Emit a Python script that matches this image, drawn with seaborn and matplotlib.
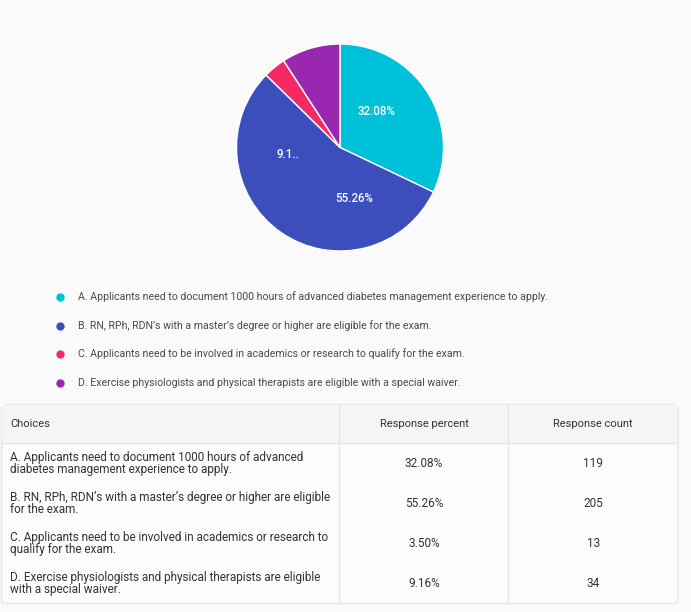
import matplotlib
matplotlib.use("Agg")
import matplotlib.pyplot as plt
from matplotlib.patches import FancyBboxPatch, Rectangle
import seaborn as sns

# ---- data ----
choices = [
    "A. Applicants need to document 1000 hours of advanced diabetes management experience to apply.",
    "B. RN, RPh, RDN\u2019s with a master\u2019s degree or higher are eligible for the exam.",
    "C. Applicants need to be involved in academics or research to qualify for the exam.",
    "D. Exercise physiologists and physical therapists are eligible with a special waiver.",
]
table_choices = [
    "A. Applicants need to document 1000 hours of advanced\ndiabetes management experience to apply.",
    "B. RN, RPh, RDN\u2019s with a master\u2019s degree or higher are eligible\nfor the exam.",
    "C. Applicants need to be involved in academics or research to\nqualify for the exam.",
    "D. Exercise physiologists and physical therapists are eligible\nwith a special waiver.",
]
percents = [32.08, 55.26, 3.50, 9.16]
counts = [119, 205, 13, 34]
pie_labels = ["32.08%", "55.26%", "", "9.1.."]
headers = ["Choices", "Response percent", "Response count"]
colors = ["#00C1DA", "#3B4EBB", "#F52A65", "#9A27B0"]

sns.set_theme(style="white")
plt.rcParams["font.family"] = ["Roboto", "DejaVu Sans"]

W, H = 691, 612
fig = plt.figure(figsize=(W / 100, H / 100), dpi=100)
fig.patch.set_facecolor("#FAFAFA")

# overlay axes in pixel coordinates for layout
lay = fig.add_axes([0, 0, 1, 1])
lay.set_xlim(0, W)
lay.set_ylim(H, 0)
lay.axis("off")

# ---- pie ----
cx, cy, r = 340, 147.5, 103.5
pax = fig.add_axes([(cx - r) / W, (H - cy - r) / H, 2 * r / W, 2 * r / H])
wedges, _ = pax.pie(percents, colors=colors, startangle=90, counterclock=False,
                    wedgeprops=dict(edgecolor="white", linewidth=1.0))
pax.set_xlim(-1.0, 1.0)
pax.set_ylim(-1.0, 1.0)
pax.set_aspect("equal")
label_pos = [(0.356, 0.343), (0.136, -0.495), None, (-0.50, -0.07)]
for lab, pos in zip(pie_labels, label_pos):
    if lab and pos:
        pax.text(pos[0], pos[1], lab, ha="center", va="center", color="white",
                 fontsize=8.3, fontweight="medium")

# ---- legend ----
leg_y0, leg_dy = 297, 28.5
for i, (txt, col) in enumerate(zip(choices, colors)):
    y = leg_y0 + i * leg_dy
    lay.scatter([60.5], [y], s=36, color=col, zorder=3, linewidths=0)
    lay.text(78, y, txt, ha="left", va="center", fontsize=7.55, color="#4A4A4A")

# ---- table ----
tx0, tx1, ty0, ty1 = 1.5, 678, 404.5, 603.5
hdr_bottom = 443
col_sep = [339.5, 508.5]
row_h = 40
box = FancyBboxPatch((tx0, ty0), tx1 - tx0, ty1 - ty0,
                     boxstyle="round,pad=0,rounding_size=5",
                     facecolor="#FCFCFC", edgecolor="#E6E6E6", linewidth=1.0, zorder=1)
lay.add_patch(box)
lay.add_patch(Rectangle((tx0 + 0.5, ty0 + 0.5), tx1 - tx0 - 1, hdr_bottom - ty0 - 0.5,
                        facecolor="#F5F5F5", edgecolor="none", zorder=1.5))
lay.plot([tx0, tx1], [hdr_bottom, hdr_bottom], color="#E6E6E6", lw=1.0, zorder=2)
for xs in col_sep:
    lay.plot([xs, xs], [ty0, ty1], color="#E6E6E6", lw=1.0, zorder=2)

hy = (ty0 + hdr_bottom) / 2
lay.text(10, hy, headers[0], ha="left", va="center", fontsize=8.0, color="#333333", zorder=3)
lay.text((col_sep[0] + col_sep[1]) / 2, hy, headers[1], ha="center", va="center",
         fontsize=8.0, color="#333333", zorder=3)
lay.text((col_sep[1] + tx1) / 2, hy, headers[2], ha="center", va="center",
         fontsize=8.0, color="#333333", zorder=3)

for i, (c, p, n) in enumerate(zip(table_choices, percents, counts)):
    y = hdr_bottom + 20.5 + i * row_h
    lay.text(10, y, c, ha="left", va="center", fontsize=8.5, color="#333333",
             linespacing=0.92, zorder=3)
    lay.text((col_sep[0] + col_sep[1]) / 2, y, f"{p:.2f}%", ha="center", va="center",
             fontsize=8.5, color="#333333", zorder=3)
    lay.text((col_sep[1] + tx1) / 2, y, f"{n}", ha="center", va="center",
             fontsize=8.5, color="#333333", zorder=3)

fig.savefig("out.png", dpi=100, facecolor=fig.get_facecolor())
